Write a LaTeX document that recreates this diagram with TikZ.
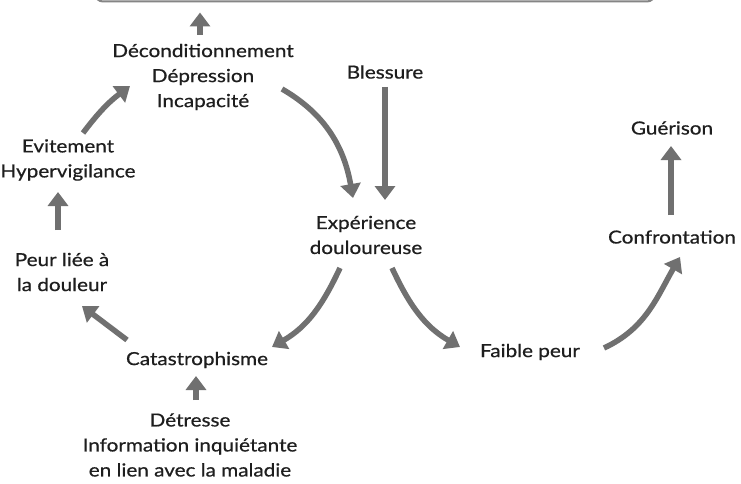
\documentclass[tikz,border=0pt]{standalone}
\usepackage{fontspec}
\setmainfont{Lato}[FakeStretch=1.15,FakeBold=0.6]
\usetikzlibrary{arrows.meta}
\definecolor{txt}{HTML}{1E1E1E}
\definecolor{arrowgray}{HTML}{707070}
\definecolor{boxgray}{HTML}{858585}
\begin{document}
\begin{tikzpicture}[x=1pt,y=1pt,
  lbl/.style={align=center, text=txt, font=\fontsize{18}{25}\selectfont, inner sep=2pt},
  arr/.style={draw=arrowgray, line width=5.5pt, -{Triangle[length=14pt,width=20pt]}},
]
\useasboundingbox (0,0) rectangle (741,-484);
\fill[white] (0,0) rectangle (741,-484);

% frame running off the top edge
\begin{scope}
  \clip (0,0) rectangle (741,-484);
  \node[draw=boxgray, line width=2pt, rounded corners=8pt,
        minimum width=560pt, minimum height=60pt, inner sep=0pt] (top) at (375,28.5) {};
\end{scope}

% labels
\node[lbl] (dec)    at (203,-77)  {Déconditionnement\\Dépression\\Incapacité};
\node[lbl] (bless)  at (385,-72)  {Blessure};
\node[lbl] (exp)    at (366,-235) {Expérience\\douloureuse};
\node[lbl] (guer)   at (672,-128) {Guérison};
\node[lbl] (conf)   at (672,-237) {Confrontation};
\node[lbl] (faible) at (530,-352) {Faible peur};
\node[lbl] (cat)    at (197,-360) {Catastrophisme};
\node[lbl] (det)    at (190,-445) {Détresse\\Information inquiétante\\en lien avec la maladie};
\node[lbl] (peur)   at (62,-272)  {Peur liée à\\la douleur};
\node[lbl] (evit)   at (68,-160)  {Evitement\\Hypervigilance};

% point on the frame straight above the top label
\path (dec.center |- top.south) coordinate (tb);

% connectors
\draw[arr] ([xshift=-3,yshift=42]dec.center) -- ([xshift=-3,yshift=-10]tb);
\draw[arr] ([xshift=15,yshift=27]evit.center) to[bend left=8] ([xshift=-73,yshift=-9]dec.center);
\draw[arr] ([xshift=-4,yshift=42]peur.center) -- ([xshift=-10,yshift=-32]evit.center);
\draw[arr] ([xshift=-70,yshift=20]cat.center) -- ([xshift=20,yshift=-34]peur.center);
\draw[arr] ([xshift=6,yshift=45]det.center) -- ([xshift=-1,yshift=-16]cat.center);
\draw[arr] ([xshift=-26,yshift=-33]exp.center) to[out=-115,in=30] ([xshift=75,yshift=13]cat.center);
\draw[arr] ([xshift=26,yshift=-33]exp.center) to[out=-65,in=150] ([xshift=-70,yshift=5]faible.center);
\draw[arr] ([xshift=74,yshift=4]faible.center) to[out=25,in=-120] ([xshift=8,yshift=-20]conf.center);
\draw[arr] ([xshift=79,yshift=-12]dec.center) to[out=-30,in=100] ([xshift=-13,yshift=37]exp.center);
\draw[arr] ([yshift=-15]bless.center) -- ([xshift=19,yshift=35]exp.center);
\draw[arr] ([xshift=-1,yshift=22]conf.center) -- ([xshift=-1,yshift=-18]guer.center);
\end{tikzpicture}
\end{document}
